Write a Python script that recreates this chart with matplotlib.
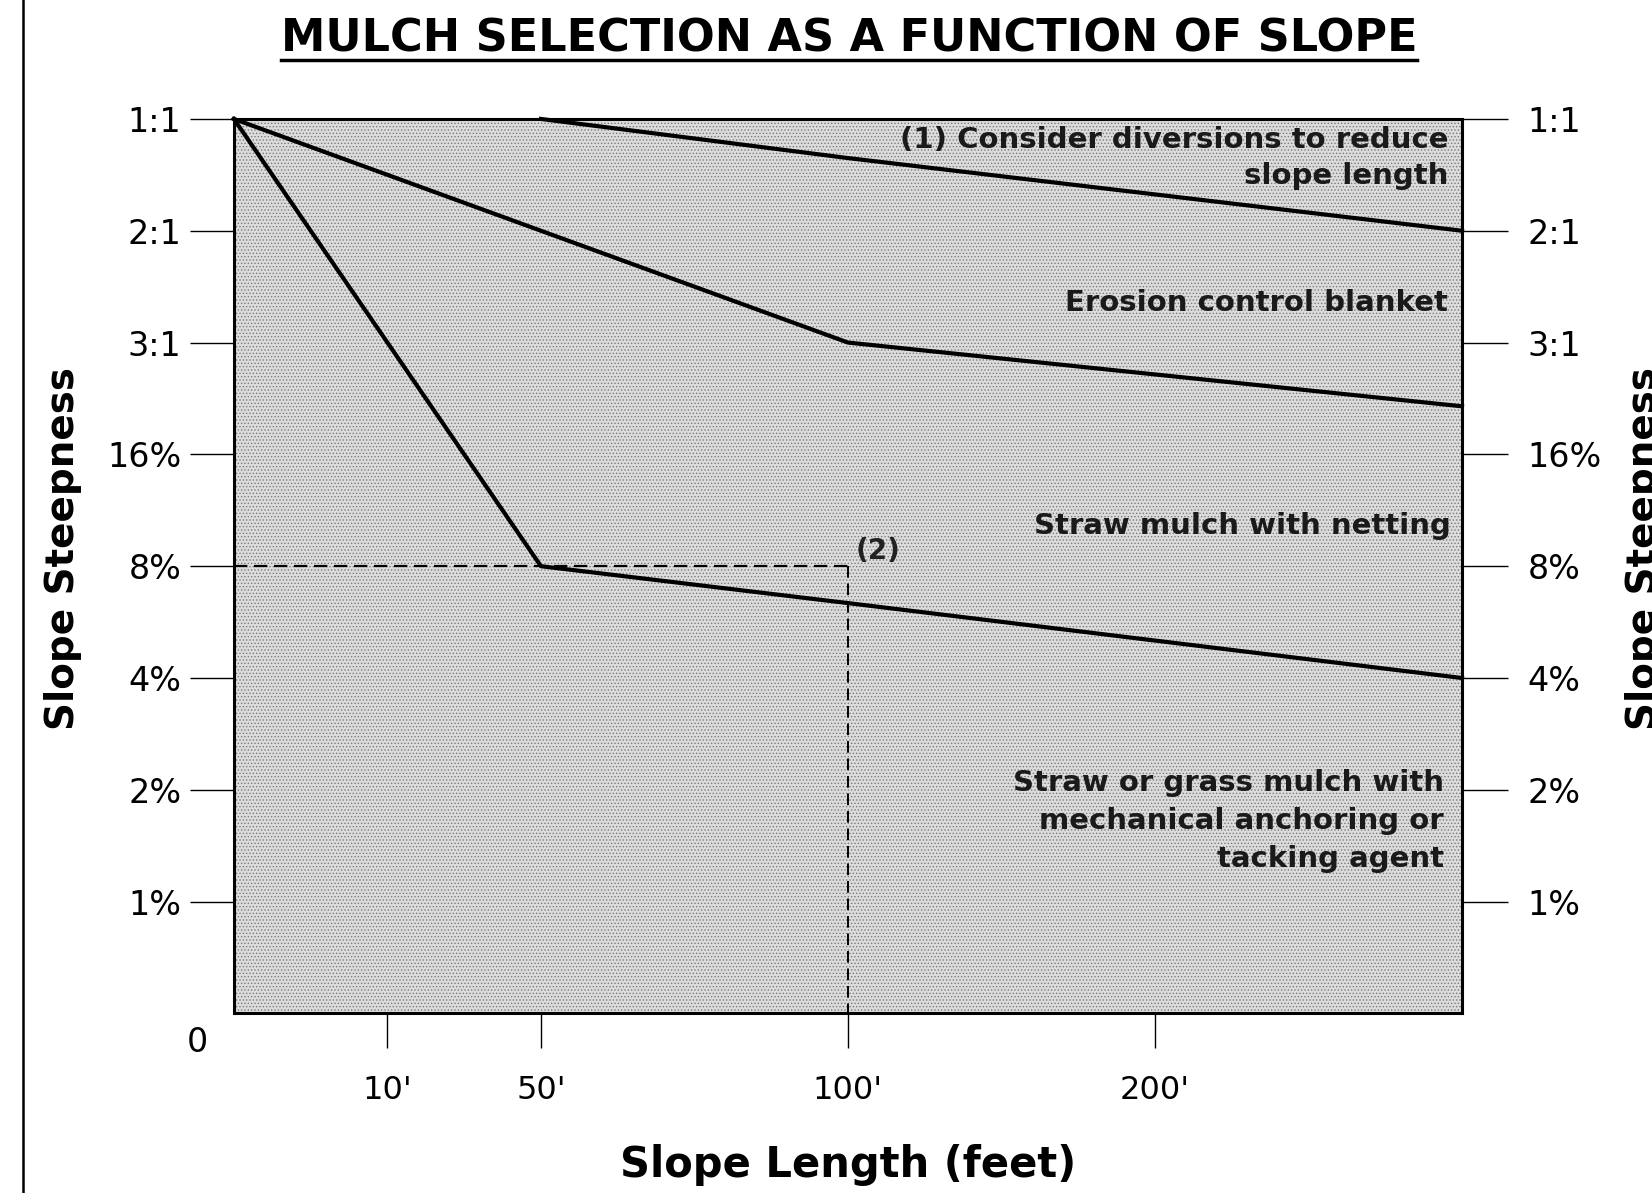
import matplotlib
matplotlib.use("Agg")
import matplotlib.pyplot as plt
from matplotlib.lines import Line2D
from matplotlib.patches import Rectangle

plt.rcParams['font.family'] = ['DejaVu Sans']
plt.rcParams['hatch.linewidth'] = 0.6

# posiciones de longitud de pendiente (eje x) y etiquetas
x_ticks = [1, 2, 4, 6]
x_labels = ["10'", "50'", "100'", "200'"]

# niveles de pendiente (eje y) y etiquetas
y_ticks = [1, 2, 3, 4, 5, 6, 7, 8]
y_labels = ["1%", "2%", "4%", "8%", "16%", "3:1", "2:1", "1:1"]

# limites entre tipos de mulch
upper_x = [2, 4, 8]
upper_y = [8, 7.65, 7]
middle_x = [0, 2, 4, 8]
middle_y = [8, 7, 6, 5.43]
lower_x = [0, 2, 4, 8]
lower_y = [8, 4, 3.67, 3]

# punto de referencia (2)
ref_x = 4
ref_y = 4

fig = plt.figure(figsize=(16.52, 11.93), dpi=100)
ax = fig.add_axes([0.1416, 0.1505, 0.7434, 0.7498])
ax.set_xlim(0, 8)
ax.set_ylim(0, 8)

# fondo punteado gris
ax.set_facecolor('#dcdcdc')
ax.add_patch(Rectangle((0, 0), 8, 8, facecolor='none', edgecolor='#7a7a7a',
                       hatch='.....', lw=0, zorder=0.5))

ax.plot(upper_x, upper_y, color='black', lw=3, zorder=3, clip_on=False)
ax.plot(middle_x, middle_y, color='black', lw=3, zorder=3, clip_on=False)
ax.plot(lower_x, lower_y, color='black', lw=3, zorder=3, clip_on=False)

ax.plot([0, ref_x], [ref_y, ref_y], color='black', lw=1.6, ls=(0, (6, 3)), zorder=2)
ax.plot([ref_x, ref_x], [ref_y, 0], color='black', lw=1.4, ls=(0, (6, 3)), zorder=2)
ax.text(ref_x + 0.05, ref_y + 0.01, '(2)', fontsize=20, fontweight='bold',
        ha='left', va='bottom', color='#222222')

for s in ax.spines.values():
    s.set_linewidth(2.2)

ax.set_xticks(x_ticks, x_labels)
ax.set_yticks(y_ticks, y_labels)
ax.tick_params(axis='x', direction='out', length=25, width=1, pad=19, labelsize=23)
ax.tick_params(axis='y', direction='out', length=32, width=1, pad=6, labelsize=24)

ax2 = ax.twinx()
ax2.set_ylim(0, 8)
ax2.set_yticks(y_ticks, y_labels)
ax2.tick_params(axis='y', direction='out', length=33, width=1, pad=14, labelsize=24)
for s in ax2.spines.values():
    s.set_visible(False)

ax.text(-0.235, -0.26, '0', fontsize=24, ha='center', va='center', clip_on=False)

# textos de cada zona
txt = dict(ha='right', fontsize=21, fontweight='bold', color='#1a1a1a')
ax.text(7.91, 7.81, '(1) Consider diversions to reduce', va='center', **txt)
ax.text(7.91, 7.49, 'slope length', va='center', **txt)
ax.text(7.91, 6.35, 'Erosion control blanket', va='center', **txt)
ax.text(7.93, 4.36, 'Straw mulch with netting', va='center', **txt)
ax.text(7.88, 1.72, 'Straw or grass mulch with\nmechanical anchoring or\ntacking agent',
        va='center', linespacing=1.45, **txt)

ax.set_xlabel('Slope Length (feet)', fontsize=30, fontweight='bold', labelpad=28)
ax.set_ylabel('Slope Steepness', fontsize=28, fontweight='bold')
ax.yaxis.set_label_coords(-0.124, 0.52)
fig.text(0.995, 0.54, 'Slope Steepness', fontsize=28, fontweight='bold',
         rotation=90, ha='center', va='center')

title = fig.text(0.514, 0.967, 'MULCH SELECTION AS A FUNCTION OF SLOPE',
                 fontsize=32, fontweight='bold', ha='center', va='center')
fig.canvas.draw()
bb = title.get_window_extent(fig.canvas.get_renderer()).transformed(fig.transFigure.inverted())
fig.add_artist(Line2D([bb.x0, bb.x1], [bb.y0 + 0.001, bb.y0 + 0.001], color='black', lw=2.5))

# linea de borde izquierdo
fig.add_artist(Line2D([0.014, 0.014], [0, 1], color='black', lw=1.8))

fig.savefig('out.png', dpi=100)
